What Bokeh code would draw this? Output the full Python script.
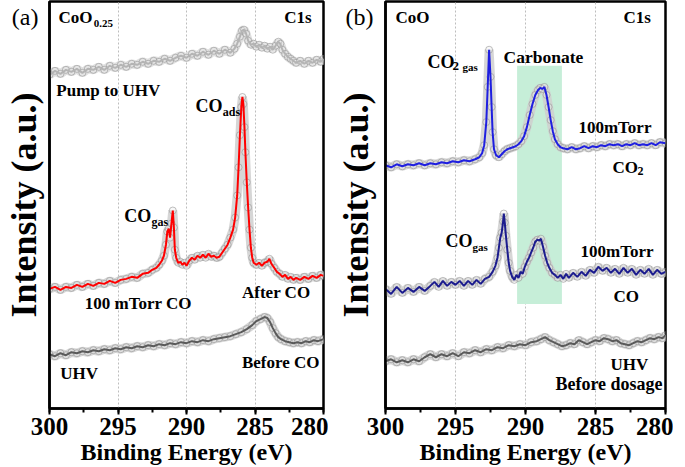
from bokeh.plotting import figure
from bokeh.models import Range1d, SingleIntervalTicker, FixedTicker, Label
from bokeh.layouts import row
from bokeh.embed import file_html
from bokeh.resources import INLINE

# ---------------- data (binding energy in eV, intensity in arbitrary units) -------------
x_ticks = [300, 295, 290, 285, 280]
tag_y = 390          # height (data units) of the panel tags "(a)" / "(b)"

# panel (a) CoO0.25 : "Pump to UHV"
pump_E = [300.0, 299.6, 299.2, 298.8, 298.4, 298.0, 297.6, 297.2, 296.8, 296.4, 296.0, 295.6,
          295.2, 294.8, 294.4, 294.0, 293.6, 293.2, 292.8, 292.4, 292.0, 291.6, 291.2, 290.8,
          290.4, 290.0, 289.6, 289.2, 288.8, 288.4, 288.0, 287.6, 287.2, 286.8, 286.5, 286.3,
          286.1, 285.95, 285.8, 285.65, 285.5, 285.3, 285.1, 284.9, 284.7, 284.5, 284.3, 284.1,
          283.9, 283.7, 283.5, 283.3, 283.15, 283.0, 282.8, 282.6, 282.4, 282.2, 282.0, 281.7,
          281.4, 281.1, 280.8, 280.5, 280.2, 280.0]
pump_I = [332, 336, 333, 337, 335, 338, 334, 338, 337, 340, 337, 341, 339, 342, 340, 343, 342,
          345, 343, 346, 345, 348, 346, 349, 351, 349, 353, 351, 355, 352, 356, 353, 357, 354,
          358, 363, 370, 376, 377, 373, 366, 362, 363, 360, 362, 359, 361, 358, 360, 357, 361,
          365, 363, 357, 353, 350, 348, 346, 344, 346, 343, 346, 344, 347, 345, 348]

# "100 mTorr CO / After CO"
after_E = [300.0, 299.6, 299.2, 298.8, 298.4, 298.0, 297.6, 297.2, 296.8, 296.4, 296.0, 295.6,
           295.2, 294.8, 294.4, 294.0, 293.6, 293.2, 292.8, 292.5, 292.2, 292.0, 291.8, 291.65,
           291.5, 291.4, 291.3, 291.2, 291.1, 291.0, 290.92, 290.85, 290.75, 290.6, 290.45,
           290.3, 290.15, 290.0, 289.8, 289.6, 289.4, 289.2, 289.0, 288.8, 288.6, 288.4, 288.2,
           288.0, 287.8, 287.6, 287.4, 287.2, 287.0, 286.8, 286.6, 286.45, 286.3, 286.2, 286.1,
           286.0, 285.92, 285.85, 285.77, 285.7, 285.6, 285.5, 285.4, 285.3, 285.2, 285.1,
           284.9, 284.7, 284.5, 284.3, 284.1, 283.95, 283.8, 283.6, 283.4, 283.2, 283.0, 282.8,
           282.6, 282.4, 282.2, 282.0, 281.7, 281.4, 281.1, 280.8, 280.5, 280.2, 280.0]
after_I = [119, 121, 118, 121, 120, 123, 121, 124, 122, 125, 124, 127, 125, 128, 129, 131, 130,
           134, 135, 138, 140, 143, 147, 152, 163, 176, 179, 170, 184, 197, 180, 158, 150, 145,
           146, 143, 145, 142, 147, 150, 148, 152, 150, 153, 150, 154, 151, 152, 150, 151, 155,
           159, 163, 170, 178, 190, 212, 240, 272, 300, 310, 303, 280, 255, 225, 200, 178, 160,
           150, 145, 143, 145, 142, 145, 146, 149, 144, 140, 136, 134, 131, 133, 129, 131, 128,
           130, 128, 131, 129, 132, 130, 133, 132]

# "UHV / Before CO"
before_E = [300.0, 299.6, 299.2, 298.8, 298.4, 298.0, 297.6, 297.2, 296.8, 296.4, 296.0, 295.6,
            295.2, 294.8, 294.4, 294.0, 293.6, 293.2, 292.8, 292.4, 292.0, 291.6, 291.2, 290.8,
            290.4, 290.0, 289.6, 289.2, 288.8, 288.4, 288.0, 287.6, 287.2, 286.8, 286.4, 286.0,
            285.6, 285.2, 284.9, 284.6, 284.3, 284.1, 283.9, 283.7, 283.5, 283.3, 283.1, 282.8,
            282.5, 282.2, 281.9, 281.6, 281.3, 281.0, 280.7, 280.4, 280.0]
before_I = [54, 52, 55, 53, 56, 55, 57, 56, 58, 57, 59, 58, 60, 59, 61, 60, 62, 61, 63, 62, 64,
            63, 65, 64, 66, 65, 67, 66, 68, 67, 69, 70, 71, 72, 74, 76, 79, 83, 87, 89, 91, 90,
            86, 80, 75, 71, 69, 67, 66, 65, 66, 65, 67, 66, 68, 67, 69]

# panel (b) CoO : "100mTorr CO2"
co2_E = [300.0, 299.6, 299.2, 298.8, 298.4, 298.0, 297.6, 297.2, 296.8, 296.4, 296.0, 295.6,
         295.2, 294.8, 294.4, 294.0, 293.6, 293.3, 293.1, 292.95, 292.8, 292.7, 292.6, 292.5,
         292.42, 292.35, 292.25, 292.1, 291.9, 291.7, 291.5, 291.3, 291.1, 290.9, 290.7, 290.5,
         290.3, 290.1, 289.9, 289.7, 289.5, 289.3, 289.1, 288.95, 288.8, 288.65, 288.5, 288.35,
         288.2, 288.05, 287.9, 287.7, 287.5, 287.3, 287.0, 286.7, 286.4, 286.1, 285.8, 285.5,
         285.2, 284.9, 284.6, 284.3, 284.0, 283.7, 283.4, 283.1, 282.8, 282.5, 282.2, 281.9,
         281.6, 281.3, 281.0, 280.7, 280.4, 280.0]
co2_I = [242, 240, 243, 241, 243, 242, 244, 242, 244, 243, 245, 244, 246, 245, 247, 246, 248,
         250, 254, 262, 285, 320, 357, 330, 300, 275, 258, 252, 250, 253, 256, 258, 259, 260,
         261, 263, 266, 271, 280, 292, 303, 312, 317, 319, 318, 320, 312, 300, 287, 276, 268,
         263, 260, 259, 258, 260, 258, 259, 261, 259, 261, 260, 262, 261, 263, 262, 263, 261,
         263, 262, 264, 262, 263, 262, 264, 262, 265, 264]

# "100mTorr CO"
co_E = [300.0, 299.6, 299.2, 298.8, 298.4, 298.0, 297.6, 297.2, 296.8, 296.5, 296.2, 295.9,
        295.6, 295.3, 295.0, 294.7, 294.4, 294.1, 293.8, 293.5, 293.2, 292.9, 292.6, 292.35,
        292.15, 292.0, 291.9, 291.8, 291.7, 291.6, 291.55, 291.48, 291.4, 291.3, 291.2, 291.1,
        290.95, 290.8, 290.65, 290.5, 290.35, 290.2, 290.05, 289.9, 289.75, 289.6, 289.45,
        289.3, 289.15, 289.0, 288.9, 288.75, 288.6, 288.45, 288.3, 288.1, 287.9, 287.7, 287.5,
        287.3, 287.1, 286.9, 286.6, 286.3, 286.0, 285.7, 285.4, 285.1, 284.8, 284.5, 284.2,
        283.9, 283.6, 283.3, 283.0, 282.7, 282.4, 282.1, 281.8, 281.5, 281.2, 280.9, 280.6,
        280.3, 280.0]
co_I = [119, 114, 121, 115, 120, 116, 121, 117, 122, 126, 121, 127, 122, 126, 123, 127, 122,
        127, 123, 128, 124, 129, 131, 136, 142, 150, 160, 170, 175, 186, 194, 185, 172, 158,
        145, 137, 131, 128, 133, 130, 136, 134, 141, 146, 150, 155, 160, 166, 168, 167, 169,
        161, 152, 145, 140, 135, 133, 130, 133, 129, 134, 130, 135, 131, 136, 132, 138, 135,
        141, 137, 140, 135, 139, 134, 140, 135, 139, 133, 138, 134, 139, 133, 138, 134, 136]

# "UHV / Before dosage"
uhv_E = [300.0, 299.6, 299.2, 298.8, 298.4, 298.0, 297.6, 297.2, 296.8, 296.4, 296.0, 295.6,
         295.2, 294.8, 294.4, 294.0, 293.6, 293.2, 292.8, 292.4, 292.0, 291.6, 291.2, 290.8,
         290.4, 290.0, 289.6, 289.2, 288.9, 288.6, 288.3, 288.0, 287.7, 287.4, 287.1, 286.8,
         286.5, 286.2, 285.9, 285.6, 285.3, 285.0, 284.7, 284.4, 284.1, 283.8, 283.5, 283.2,
         282.9, 282.6, 282.3, 282.0, 281.7, 281.4, 281.1, 280.8, 280.5, 280.2, 280.0]
uhv_I = [47, 49, 46, 48, 46, 49, 47, 51, 54, 51, 54, 52, 55, 52, 56, 55, 58, 56, 59, 58, 61, 60,
         63, 62, 64, 63, 66, 67, 69, 71, 68, 66, 64, 62, 63, 65, 64, 68, 66, 64, 66, 68, 67, 70,
         69, 67, 68, 65, 64, 63, 65, 67, 66, 68, 70, 69, 71, 70, 73]

# carbonate region highlighted in panel (b)
band_E = [290.6, 287.4]
band_I = [104, 341]

FONT = "Liberation Serif"
HEIGHT = 467


def make_fig(width, border_left, border_right, tag, tag_standoff, title_standoff):
    p = figure(width=width, height=HEIGHT, x_range=Range1d(300, 280), y_range=Range1d(0, 405),
               output_backend="svg", toolbar_location=None,
               min_border_left=border_left, min_border_right=border_right,
               min_border_top=1, min_border_bottom=50)
    p.outline_line_color = "black"
    p.outline_line_width = 2.5
    p.background_fill_color = "white"
    p.border_fill_color = "white"
    p.ygrid.visible = False
    p.xgrid.ticker = FixedTicker(ticks=x_ticks[1:-1])
    p.xgrid.grid_line_color = "#bdbdbd"
    p.xgrid.grid_line_dash = "2 2"
    p.xgrid.grid_line_width = 1

    xa = p.xaxis[0]
    xa.ticker = SingleIntervalTicker(interval=5, num_minor_ticks=2)
    xa.axis_line_width = 2.5
    xa.axis_line_color = "black"
    xa.major_tick_line_width = 2
    xa.minor_tick_line_width = 2
    xa.major_tick_line_color = "black"
    xa.minor_tick_line_color = "black"
    xa.major_tick_in = 0
    xa.major_tick_out = 6
    xa.minor_tick_in = 0
    xa.minor_tick_out = 4
    xa.major_label_text_font = FONT
    xa.major_label_text_font_style = "bold"
    xa.major_label_text_font_size = "25px"
    xa.major_label_text_color = "black"
    xa.major_label_standoff = 3
    xa.axis_label = "Binding Energy (eV)"
    xa.axis_label_text_font = FONT
    xa.axis_label_text_font_style = "bold"
    xa.axis_label_text_font_size = "24px"
    xa.axis_label_text_color = "black"
    xa.axis_label_standoff = 1

    # the y axis carries no values; its single tick label is the panel tag
    ya = p.yaxis[0]
    ya.ticker = FixedTicker(ticks=[tag_y])
    ya.major_label_overrides = {tag_y: tag}
    ya.major_label_text_font = FONT
    ya.major_label_text_font_style = "normal"
    ya.major_label_text_font_size = "24px"
    ya.major_label_text_color = "black"
    ya.major_label_standoff = tag_standoff
    ya.axis_line_width = 2.5
    ya.axis_line_color = "black"
    ya.major_tick_line_color = None
    ya.minor_tick_line_color = None
    ya.major_tick_out = 0
    ya.major_tick_in = 0
    ya.axis_label = "Intensity (a.u.)"
    ya.axis_label_text_font = FONT
    ya.axis_label_text_font_style = "bold"
    ya.axis_label_text_font_size = "36px"
    ya.axis_label_text_color = "black"
    ya.axis_label_standoff = title_standoff
    return p


def curve(p, E, I, color, halo="#cfcfcf", width=2):
    p.line(E, I, line_width=9, line_color=halo, line_alpha=0.85)
    p.scatter(E, I, marker="circle", size=7, line_color="#8c8c8c", line_alpha=0.55,
              fill_color="#eeeeee", fill_alpha=0.4)
    p.line(E, I, line_width=width, line_color=color)


def lab(p, x, y, text, size="17px", style="bold", align="left"):
    p.add_layout(Label(x=x, y=y, text=text, text_font=FONT, text_font_style=style,
                       text_font_size=size, text_baseline="middle", text_align=align,
                       text_color="black"))


# ---------------- panel (a) ----------------
pa = make_fig(328, 44, 5, "(a)", 11, -35)
curve(pa, pump_E, pump_I, "#b4b4b4", halo="#d9d9d9")
curve(pa, after_E, after_I, "#ff0000")
curve(pa, before_E, before_I, "#5a5a5a")
lab(pa, 299.35, 389.5, "CoO")
lab(pa, 296.77, 383, "0.25", size="11px")
lab(pa, 282.87, 389, "C1s")
lab(pa, 299.5, 316, "Pump to UHV")
lab(pa, 289.34, 301, "CO", size="18px")
lab(pa, 287.35, 295, "ads", size="12px")
lab(pa, 294.55, 192, "CO", size="18px")
lab(pa, 292.55, 186, "gas", size="12px")
lab(pa, 297.42, 104, "100 mTorr CO")
lab(pa, 285.95, 115, "After CO")
lab(pa, 299.21, 35, "UHV")
lab(pa, 285.95, 46, "Before CO")

# ---------------- panel (b) ----------------
pb = make_fig(345, 57, 8, "(b)", 12, -33)
pb.quad(left=[band_E[0]], right=[band_E[1]], bottom=[band_I[0]], top=[band_I[1]],
        fill_color="#c6eed8", line_color=None)
curve(pb, co2_E, co2_I, "#1f1fe0")
curve(pb, co_E, co_I, "#1c1c8e")
curve(pb, uhv_E, uhv_I, "#5a5a5a")
lab(pb, 299.29, 389.5, "CoO")
lab(pb, 283.0, 389, "C1s")
lab(pb, 297.0, 344.5, "CO", size="18px")
lab(pb, 295.22, 340.5, "2", size="13px")
lab(pb, 294.5, 339.5, "gas", size="11px")
lab(pb, 291.57, 350, "Carbonate", size="17.5px")
lab(pb, 286.22, 280, "100mTorr")
lab(pb, 283.79, 240, "CO")
lab(pb, 282.0, 236, "2", size="12px")
lab(pb, 295.71, 167, "CO", size="18px")
lab(pb, 293.79, 161, "gas", size="11px")
lab(pb, 286.07, 156, "100mTorr")
lab(pb, 283.71, 111, "CO")
lab(pb, 283.93, 44, "UHV")
lab(pb, 287.86, 24, "Before dosage", size="18px")

layout = row(pa, pb)
open("out.html", "w").write(file_html(layout, INLINE))
